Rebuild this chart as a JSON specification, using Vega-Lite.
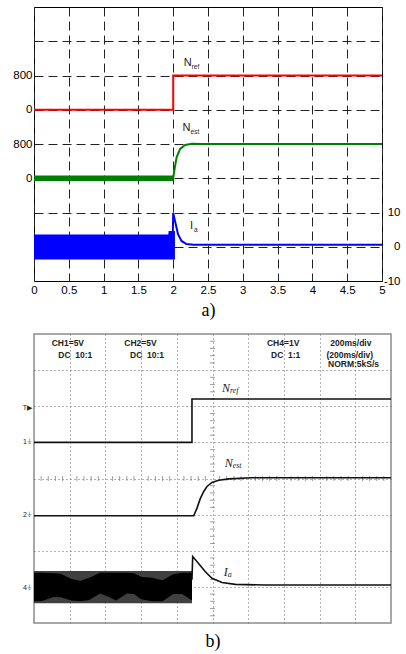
{
  "$schema": "https://vega.github.io/schema/vega-lite/v6.json",
  "padding": {"left": 12, "top": 6, "right": 5, "bottom": 5},
  "spacing": 13,
  "config": {"font": "Liberation Sans", "axis": {"labelColor": "black"}},
  "datasets": {
    "nref": [{"i": 0, "t": 0, "v": 0}, {"i": 1, "t": 2.0, "v": 0}, {"i": 2, "t": 2.0, "v": 800}, {"i": 3, "t": 5, "v": 800}],
    "nest_band": [{"t": 0, "lo": -65, "hi": 65}, {"t": 2.01, "lo": -65, "hi": 65}],
    "nest": [{"t": 2.0, "v": 0}, {"t": 2.005, "v": 60}, {"t": 2.025, "v": 265}, {"t": 2.05, "v": 494}, {"t": 2.1, "v": 686}, {"t": 2.17, "v": 777}, {"t": 2.27, "v": 805}, {"t": 2.4, "v": 800}, {"t": 5, "v": 800}],
    "ia_band": [{"t": 0, "lo": -3.7, "hi": 3.6}, {"t": 1.93, "lo": -3.7, "hi": 3.6}, {"t": 1.935, "lo": -3.7, "hi": 4.6}, {"t": 2.025, "lo": -3.7, "hi": 4.6}],
    "ia": [{"t": 1.995, "v": 4.5}, {"t": 2.0, "v": 9.9}, {"t": 2.015, "v": 8.5}, {"t": 2.04, "v": 6.3}, {"t": 2.07, "v": 3.6}, {"t": 2.12, "v": 1.7}, {"t": 2.19, "v": 0.8}, {"t": 2.29, "v": 0.6}, {"t": 5, "v": 0.6}],
    "lab_nref": [{"t": 2.15, "v": 1092, "main": "N", "sub": "ref"}],
    "lab_nest": [{"t": 2.135, "v": 1181, "main": "N", "sub": "est"}],
    "lab_ia": [{"t": 2.24, "v": 6.06, "main": "I", "sub": "a"}],
    "ch1": [{"i": 0, "t": 0, "d": 5.0}, {"i": 1, "t": 0.885, "d": 5.0}, {"i": 2, "t": 0.885, "d": 6.2}, {"i": 3, "t": 2, "d": 6.2}],
    "ch2": [{"t": 0, "d": 2.97}, {"t": 0.895, "d": 2.97}, {"t": 0.913, "d": 3.18}, {"t": 0.932, "d": 3.45}, {"t": 0.951, "d": 3.64}, {"t": 0.969, "d": 3.78}, {"t": 0.997, "d": 3.89}, {"t": 1.035, "d": 3.95}, {"t": 1.091, "d": 3.99}, {"t": 1.22, "d": 4.02}, {"t": 2, "d": 4.02}],
    "ch4": [{"t": 0.885, "d": 1.2}, {"t": 0.889, "d": 1.84}, {"t": 0.922, "d": 1.65}, {"t": 0.96, "d": 1.42}, {"t": 0.997, "d": 1.24}, {"t": 1.053, "d": 1.12}, {"t": 1.128, "d": 1.07}, {"t": 1.3, "d": 1.05}, {"t": 2, "d": 1.05}],
    "ch4_outer": [{"t": 0, "lo": 0.55, "hi": 1.44}, {"t": 0.885, "lo": 0.55, "hi": 1.44}],
    "ch4_core": [{"t": 0, "lo": 0.6, "hi": 1.39}, {"t": 0.04, "lo": 0.6, "hi": 1.39}, {"t": 0.11, "lo": 0.72, "hi": 1.38}, {"t": 0.15, "lo": 0.71, "hi": 1.36}, {"t": 0.21, "lo": 0.62, "hi": 1.22}, {"t": 0.26, "lo": 0.6, "hi": 1.17}, {"t": 0.31, "lo": 0.64, "hi": 1.25}, {"t": 0.37, "lo": 0.82, "hi": 1.39}, {"t": 0.42, "lo": 0.72, "hi": 1.39}, {"t": 0.46, "lo": 0.62, "hi": 1.39}, {"t": 0.52, "lo": 0.82, "hi": 1.39}, {"t": 0.56, "lo": 0.8, "hi": 1.38}, {"t": 0.6, "lo": 0.66, "hi": 1.28}, {"t": 0.66, "lo": 0.6, "hi": 1.25}, {"t": 0.72, "lo": 0.6, "hi": 1.18}, {"t": 0.78, "lo": 0.8, "hi": 1.35}, {"t": 0.83, "lo": 0.8, "hi": 1.39}, {"t": 0.885, "lo": 0.62, "hi": 1.39}],
    "gnd": [{"t": 0, "d": 5.0, "s": "1⏚"}, {"t": 0, "d": 2.99, "s": "2⏚"}, {"t": 0, "d": 0.97, "s": "4⏚"}, {"t": 0, "d": 5.95, "s": "T▶"}],
    "scope_text": [
      {"t": 0.099, "d": 7.74, "s": "CH1=5V"}, {"t": 0.136, "d": 7.42, "s": "DC\u00a0\u00a010:1"},
      {"t": 0.506, "d": 7.74, "s": "CH2=5V"}, {"t": 0.538, "d": 7.42, "s": "DC\u00a0\u00a010:1"},
      {"t": 1.305, "d": 7.74, "s": "CH4=1V"}, {"t": 1.328, "d": 7.42, "s": "DC\u00a0\u00a01:1"},
      {"t": 1.66, "d": 7.74, "s": "200ms/div"}, {"t": 1.638, "d": 7.42, "s": "(200ms/div)"}, {"t": 1.647, "d": 7.16, "s": "NORM:5kS/s"}
    ],
    "scope_lab_n": [{"t": 1.053, "d": 6.5, "main": "N", "sub": "ref"}, {"t": 1.068, "d": 4.42, "main": "N", "sub": "est"}],
    "scope_lab_i": [{"t": 1.063, "d": 1.42, "main": "I", "sub": "a"}],
    "vticks": [{"t": 1, "d": 0.2}, {"t": 1, "d": 0.4}, {"t": 1, "d": 0.6}, {"t": 1, "d": 0.8}, {"t": 1, "d": 1.2}, {"t": 1, "d": 1.4}, {"t": 1, "d": 1.6}, {"t": 1, "d": 1.8}, {"t": 1, "d": 2.2}, {"t": 1, "d": 2.4}, {"t": 1, "d": 2.6}, {"t": 1, "d": 2.8}, {"t": 1, "d": 3.2}, {"t": 1, "d": 3.4}, {"t": 1, "d": 3.6}, {"t": 1, "d": 3.8}, {"t": 1, "d": 4.2}, {"t": 1, "d": 4.4}, {"t": 1, "d": 4.6}, {"t": 1, "d": 4.8}, {"t": 1, "d": 5.2}, {"t": 1, "d": 5.4}, {"t": 1, "d": 5.6}, {"t": 1, "d": 5.8}, {"t": 1, "d": 6.2}, {"t": 1, "d": 6.4}, {"t": 1, "d": 6.6}, {"t": 1, "d": 6.8}, {"t": 1, "d": 7.2}, {"t": 1, "d": 7.4}, {"t": 1, "d": 7.6}, {"t": 1, "d": 7.8}],
    "hticks": [{"t": 0.04, "d": 4}, {"t": 0.08, "d": 4}, {"t": 0.12, "d": 4}, {"t": 0.16, "d": 4}, {"t": 0.24, "d": 4}, {"t": 0.28, "d": 4}, {"t": 0.32, "d": 4}, {"t": 0.36, "d": 4}, {"t": 0.44, "d": 4}, {"t": 0.48, "d": 4}, {"t": 0.52, "d": 4}, {"t": 0.56, "d": 4}, {"t": 0.64, "d": 4}, {"t": 0.68, "d": 4}, {"t": 0.72, "d": 4}, {"t": 0.76, "d": 4}, {"t": 0.84, "d": 4}, {"t": 0.88, "d": 4}, {"t": 0.92, "d": 4}, {"t": 0.96, "d": 4}, {"t": 1.04, "d": 4}, {"t": 1.08, "d": 4}, {"t": 1.12, "d": 4}, {"t": 1.16, "d": 4}, {"t": 1.24, "d": 4}, {"t": 1.28, "d": 4}, {"t": 1.32, "d": 4}, {"t": 1.36, "d": 4}, {"t": 1.44, "d": 4}, {"t": 1.48, "d": 4}, {"t": 1.52, "d": 4}, {"t": 1.56, "d": 4}, {"t": 1.64, "d": 4}, {"t": 1.68, "d": 4}, {"t": 1.72, "d": 4}, {"t": 1.76, "d": 4}, {"t": 1.84, "d": 4}, {"t": 1.88, "d": 4}, {"t": 1.92, "d": 4}, {"t": 1.96, "d": 4}]
  },
  "vconcat": [
    {
      "width": 348,
      "height": 274,
      "view": {"stroke": "black", "strokeWidth": 1},
      "encoding": {
        "x": {"field": "t", "type": "quantitative", "scale": {"domain": [0, 5], "nice": false, "zero": false},
          "axis": {"values": [0, 0.5, 1, 1.5, 2, 2.5, 3, 3.5, 4, 4.5, 5], "format": "~g", "grid": true, "gridDash": [9, 5], "gridColor": "#222", "gridWidth": 1, "ticks": false, "domain": false, "labelFlush": false, "labelFontSize": 11.5, "labelPadding": 3, "labelFont": "Liberation Sans",
            "title": "a)", "titleFont": "Liberation Serif", "titleFontSize": 18, "titleFontWeight": "normal", "titlePadding": 6, "titleColor": "black"}}
      },
      "layer": [
        {
          "layer": [
            {"data": {"name": "nref"}, "mark": {"type": "line", "color": "#ff0000", "strokeWidth": 2},
              "encoding": {"order": {"field": "i", "type": "quantitative"},
                "y": {"field": "v", "type": "quantitative", "scale": {"domain": [-4000, 2400], "nice": false, "zero": false},
                  "axis": {"orient": "left", "values": [-3200, -2400, -1600, -800, 0, 800, 1600], "labelExpr": "datum.value == 0 || datum.value == 800 ? datum.label : ''", "grid": true, "gridDash": [9, 5], "gridColor": "#222", "gridWidth": 1, "ticks": false, "domain": false, "labelFontSize": 11.5, "labelPadding": 2, "title": null, "labelFont": "Liberation Sans"}}}},
            {"data": {"name": "lab_nref"}, "mark": {"type": "text", "align": "left", "baseline": "middle", "fontSize": 11, "color": "#222"},
              "encoding": {"y": {"field": "v", "type": "quantitative", "scale": {"domain": [-4000, 2400], "nice": false, "zero": false}}, "text": {"field": "main"}}},
            {"data": {"name": "lab_nref"}, "mark": {"type": "text", "align": "left", "baseline": "middle", "fontSize": 6.5, "dx": 8, "dy": 4, "color": "#222"},
              "encoding": {"y": {"field": "v", "type": "quantitative", "scale": {"domain": [-4000, 2400], "nice": false, "zero": false}}, "text": {"field": "sub"}}}
          ]
        },
        {
          "layer": [
            {"data": {"name": "nest_band"}, "mark": {"type": "area", "color": "#008000", "opacity": 1},
              "encoding": {"y": {"field": "lo", "type": "quantitative", "scale": {"domain": [-2400, 4000], "nice": false, "zero": false},
                  "axis": {"orient": "left", "values": [0, 800], "grid": false, "ticks": false, "domain": false, "labelFontSize": 11.5, "labelPadding": 2, "title": null, "labelFont": "Liberation Sans"}},
                "y2": {"field": "hi"}}},
            {"data": {"name": "nest"}, "mark": {"type": "line", "color": "#008000", "strokeWidth": 2},
              "encoding": {"y": {"field": "v", "type": "quantitative", "scale": {"domain": [-2400, 4000], "nice": false, "zero": false}}}},
            {"data": {"name": "lab_nest"}, "mark": {"type": "text", "align": "left", "baseline": "middle", "fontSize": 11, "color": "#222"},
              "encoding": {"y": {"field": "v", "type": "quantitative", "scale": {"domain": [-2400, 4000], "nice": false, "zero": false}}, "text": {"field": "main"}}},
            {"data": {"name": "lab_nest"}, "mark": {"type": "text", "align": "left", "baseline": "middle", "fontSize": 6.5, "dx": 8, "dy": 4, "color": "#222"},
              "encoding": {"y": {"field": "v", "type": "quantitative", "scale": {"domain": [-2400, 4000], "nice": false, "zero": false}}, "text": {"field": "sub"}}}
          ]
        },
        {
          "layer": [
            {"data": {"name": "ia_band"}, "mark": {"type": "area", "color": "#0000ff", "opacity": 1},
              "encoding": {"y": {"field": "lo", "type": "quantitative", "scale": {"domain": [-10, 70], "nice": false, "zero": false},
                  "axis": {"orient": "right", "values": [-10, 0, 10], "labelExpr": "datum.value < 0 ? '-' + abs(datum.value) : datum.label", "grid": false, "ticks": false, "domain": false, "labelFontSize": 11.5, "labelPadding": 18, "labelAlign": "right", "labelFlush": false, "title": null, "labelFont": "Liberation Sans"}},
                "y2": {"field": "hi"}}},
            {"data": {"name": "ia"}, "mark": {"type": "line", "color": "#0000ff", "strokeWidth": 2},
              "encoding": {"y": {"field": "v", "type": "quantitative", "scale": {"domain": [-10, 70], "nice": false, "zero": false}}}},
            {"data": {"name": "lab_ia"}, "mark": {"type": "text", "align": "left", "baseline": "middle", "fontSize": 11, "color": "#222"},
              "encoding": {"y": {"field": "v", "type": "quantitative", "scale": {"domain": [-10, 70], "nice": false, "zero": false}}, "text": {"field": "main"}}},
            {"data": {"name": "lab_ia"}, "mark": {"type": "text", "align": "left", "baseline": "middle", "fontSize": 6.5, "dx": 4, "dy": 4, "color": "#222"},
              "encoding": {"y": {"field": "v", "type": "quantitative", "scale": {"domain": [-10, 70], "nice": false, "zero": false}}, "text": {"field": "sub"}}}
          ]
        }
      ],
      "resolve": {"scale": {"y": "independent"}, "axis": {"y": "independent"}}
    },
    {
      "width": 357,
      "height": 289,
      "view": {"stroke": "#8c8c8c", "strokeWidth": 1.5},
      "encoding": {
        "x": {"field": "t", "type": "quantitative", "scale": {"domain": [0, 2], "nice": false, "zero": false},
          "axis": {"values": [0.2, 0.4, 0.6, 0.8, 1.0, 1.2, 1.4, 1.6, 1.8], "grid": true, "gridDash": [1, 3], "gridColor": "#666", "gridWidth": 1, "labels": false, "ticks": false, "domain": false,
            "title": "b)", "titleFont": "Liberation Serif", "titleFontSize": 18, "titleFontWeight": "normal", "titlePadding": 9, "titleColor": "black"}},
        "y": {"field": "d", "type": "quantitative", "scale": {"domain": [0, 8], "nice": false, "zero": false},
          "axis": {"values": [1, 2, 3, 4, 5, 6, 7], "grid": true, "gridDash": [1, 3], "gridColor": "#666", "gridWidth": 1, "labels": false, "ticks": false, "domain": false, "title": null}}
      },
      "layer": [
        {"data": {"name": "vticks"}, "mark": {"type": "tick", "orient": "horizontal", "size": 5, "thickness": 1, "color": "#777"}},
        {"data": {"name": "hticks"}, "mark": {"type": "tick", "orient": "vertical", "size": 5, "thickness": 1, "color": "#777"}},
        {"data": {"name": "ch4_outer"}, "mark": {"type": "area", "color": "#404040", "opacity": 1}, "encoding": {"y": {"field": "lo", "type": "quantitative"}, "y2": {"field": "hi"}}},
        {"data": {"name": "ch4_core"}, "mark": {"type": "area", "color": "#000000", "opacity": 1}, "encoding": {"y": {"field": "lo", "type": "quantitative"}, "y2": {"field": "hi"}}},
        {"data": {"name": "ch1"}, "mark": {"type": "line", "color": "#111", "strokeWidth": 1.6}, "encoding": {"order": {"field": "i", "type": "quantitative"}}},
        {"data": {"name": "ch2"}, "mark": {"type": "line", "color": "#111", "strokeWidth": 1.6}},
        {"data": {"name": "ch4"}, "mark": {"type": "line", "color": "#111", "strokeWidth": 1.6}},
        {"data": {"name": "gnd"}, "mark": {"type": "text", "align": "right", "baseline": "middle", "dx": -2, "fontSize": 7, "color": "#222"}, "encoding": {"text": {"field": "s"}}},
        {"data": {"name": "scope_text"}, "mark": {"type": "text", "align": "left", "baseline": "middle", "fontSize": 8.5, "fontWeight": "bold", "color": "#222"}, "encoding": {"text": {"field": "s"}}},
        {"data": {"name": "scope_lab_n"}, "mark": {"type": "text", "align": "left", "baseline": "middle", "fontSize": 12, "font": "Liberation Serif", "fontStyle": "italic", "color": "#222"}, "encoding": {"text": {"field": "main"}}},
        {"data": {"name": "scope_lab_n"}, "mark": {"type": "text", "align": "left", "baseline": "middle", "fontSize": 8, "font": "Liberation Serif", "fontStyle": "italic", "dx": 8, "dy": 3, "color": "#222"}, "encoding": {"text": {"field": "sub"}}},
        {"data": {"name": "scope_lab_i"}, "mark": {"type": "text", "align": "left", "baseline": "middle", "fontSize": 12, "font": "Liberation Serif", "fontStyle": "italic", "color": "#222"}, "encoding": {"text": {"field": "main"}}},
        {"data": {"name": "scope_lab_i"}, "mark": {"type": "text", "align": "left", "baseline": "middle", "fontSize": 8, "font": "Liberation Serif", "fontStyle": "italic", "dx": 4, "dy": 3, "color": "#222"}, "encoding": {"text": {"field": "sub"}}}
      ]
    }
  ]
}
